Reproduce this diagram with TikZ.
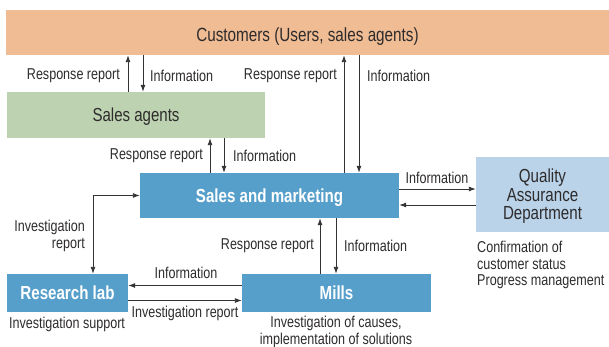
\documentclass[tikz,border=0pt]{standalone}
\usepackage{fontspec}
\setmainfont[FakeStretch=0.8]{Liberation Sans}
\usetikzlibrary{arrows.meta}
\definecolor{custc}{HTML}{EFBC94}
\definecolor{agentc}{HTML}{BDD2B1}
\definecolor{bluec}{HTML}{579FCB}
\definecolor{qac}{HTML}{BAD3E8}
\definecolor{txtc}{HTML}{2E2B2C}
\definecolor{linec}{HTML}{333333}
\begin{document}
\begin{tikzpicture}[x=1pt,y=-1pt,
  box/.style={draw=none,inner sep=0pt,align=center,text depth=0pt},
  darkbox/.style={box,fill=bluec,text=white,font=\fontsize{18.9}{20}\selectfont\bfseries},
  lbl/.style={inner sep=0pt,text=txtc,font=\fontsize{15.7}{16.2}\selectfont},
  arr/.style={draw=linec,line width=0.9pt,-{Latex[length=7pt,width=5pt]}},
  dbl/.style={draw=linec,line width=0.9pt,{Latex[length=7pt,width=5pt]}-{Latex[length=7pt,width=5pt]}}
]
\useasboundingbox (0,0) rectangle (609,347);
% boxes
\node[box,fill=custc,text=txtc,minimum width=603pt,minimum height=45pt,text height=18pt,font=\fontsize{19.1}{21}\selectfont] (cust) at (307.5,32.5) {Customers (Users, sales agents)};
\node[box,fill=agentc,text=txtc,minimum width=258pt,minimum height=46pt,font=\fontsize{18.8}{20}\selectfont] (sa) at (136,115) {Sales agents};
\node[darkbox,minimum width=259pt,minimum height=45pt] (sm) at (269.5,195.5) {Sales and marketing};
\node[box,fill=qac,text=txtc,minimum width=133pt,minimum height=75pt,font=\fontsize{18.9}{18.5}\selectfont] (qa) at (542.5,194.5) {Quality\\Assurance\\Department};
\node[darkbox,minimum width=121pt,minimum height=38pt] (rl) at (67.5,293) {Research lab};
\node[darkbox,minimum width=189pt,minimum height=38pt] (mi) at (336.5,293) {Mills};
% connectors
\draw[arr] (128,0 |- sa.north) -- (128,0 |- cust.south);
\draw[arr] (143,0 |- cust.south) -- (143,0 |- sa.north);
\draw[arr] (344,0 |- sm.north) -- (344,0 |- cust.south);
\draw[arr] (359,0 |- cust.south) -- (359,0 |- sm.north);
\draw[arr] (210,0 |- sm.north) -- (210,0 |- sa.south);
\draw[arr] (224,0 |- sa.south) -- (224,0 |- sm.north);
\draw[arr] (sm.east |- 0,189) -- (qa.west |- 0,189);
\draw[arr] (qa.west |- 0,205) -- (sm.east |- 0,205);
\draw[dbl] (93,0 |- rl.north) |- (sm.west);
\draw[arr] (320,0 |- mi.north) -- (320,0 |- sm.south);
\draw[arr] (336,0 |- sm.south) -- (336,0 |- mi.north);
\draw[arr] (mi.west |- 0,285.5) -- (rl.east |- 0,285.5);
\draw[arr] (rl.east |- 0,300.5) -- (mi.west |- 0,300.5);
% labels
\node[lbl,anchor=east] (l1) at (120,76) {Response report};
\node[lbl,anchor=west] (l2) at (150,76) {Information};
\node[lbl,anchor=east] (l3) at (337,76) {Response report};
\node[lbl,anchor=west] (l4) at (367,76) {Information};
\node[lbl,anchor=east] (l5) at (203,156) {Response report};
\node[lbl,anchor=west] (l6) at (233,156) {Information};
\node[lbl] (l7) at (437,178) {Information};
\node[lbl,anchor=east,align=right] (l8) at (85,236) {Investigation\\report};
\node[lbl,anchor=east] (l9) at (314,246) {Response report};
\node[lbl,anchor=west] (l10) at (344,246) {Information};
\node[lbl] (l11) at (186,273) {Information};
\node[lbl] (l12) at (185,313) {Investigation report};
\node[lbl] (l13) at (67,324) {Investigation support};
\node[lbl,align=center] (l14) at (336,332) {Investigation of causes,\\implementation of solutions};
\node[lbl,align=left,anchor=west] (l15) at (477,265) {Confirmation of\\customer status\\Progress management};
\end{tikzpicture}
\end{document}
